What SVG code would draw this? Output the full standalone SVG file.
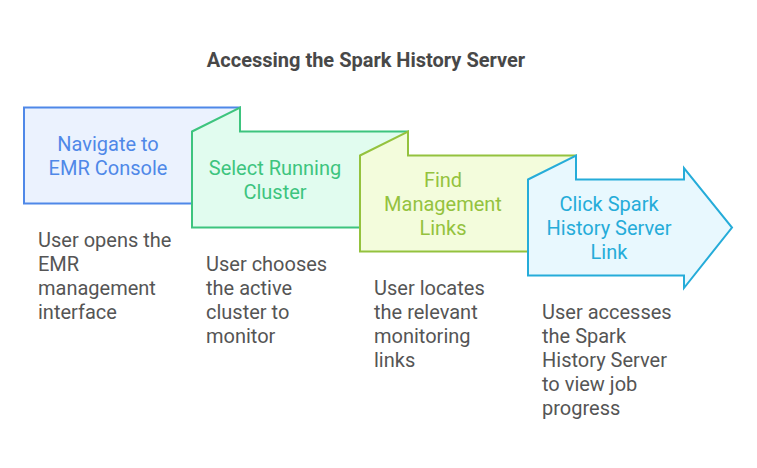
<svg xmlns="http://www.w3.org/2000/svg" width="757" height="468" viewBox="0 0 757 468">
<style>
.t{font-family:Roboto,"Liberation Sans",sans-serif;font-size:20px;text-anchor:middle}
.d{font-family:Roboto,"Liberation Sans",sans-serif;font-size:20px;fill:#555555}
.s{stroke-width:2;stroke-linejoin:miter}
</style>
<rect width="757" height="468" fill="#ffffff"/>
<text x="366" y="67" style="font-family:Roboto,'Liberation Sans',sans-serif;font-size:20px;font-weight:bold;text-anchor:middle" fill="#484848">Accessing the Spark History Server</text>
<g id="connectors"></g>
<g id="node1">
<rect x="24" y="107.5" width="216" height="96" class="s" fill="#ebf2fe" stroke="#4f88e8"/>
<text class="t" fill="#4f88e8"><tspan x="108" y="151">Navigate to</tspan><tspan x="108" y="175">EMR Console</tspan></text>
<text class="d"><tspan x="38" y="247">User opens the</tspan><tspan x="38" y="271">EMR</tspan><tspan x="38" y="295">management</tspan><tspan x="38" y="319">interface</tspan></text>
</g>
<g id="node2">
<path d="M192,131.5 L240,107.5 L240,131.5 L408,131.5 L408,227.5 L192,227.5 Z" class="s" fill="#e1fcef" stroke="#3dc47e"/>
<text class="t" fill="#3dc47e"><tspan x="275" y="175">Select Running</tspan><tspan x="275" y="199">Cluster</tspan></text>
<text class="d"><tspan x="206" y="271">User chooses</tspan><tspan x="206" y="295">the active</tspan><tspan x="206" y="319">cluster to</tspan><tspan x="206" y="343">monitor</tspan></text>
</g>
<g id="node3">
<path d="M360,155.5 L408,131.5 L408,155.5 L576,155.5 L576,251.5 L360,251.5 Z" class="s" fill="#f3fcdc" stroke="#94c23e"/>
<text class="t" fill="#94c23e"><tspan x="443" y="187">Find</tspan><tspan x="443" y="211">Management</tspan><tspan x="443" y="235">Links</tspan></text>
<text class="d"><tspan x="374" y="295">User locates</tspan><tspan x="374" y="319">the relevant</tspan><tspan x="374" y="343">monitoring</tspan><tspan x="374" y="367">links</tspan></text>
</g>
<g id="node4">
<path d="M528,179.5 L576,155.5 L576,179.5 L684,179.5 L684,168 L732,227.5 L684,288 L684,275.5 L528,275.5 Z" class="s" fill="#e8f8fe" stroke="#25acd9"/>
<text class="t" fill="#25acd9"><tspan x="609" y="211">Click Spark</tspan><tspan x="609" y="235">History Server</tspan><tspan x="609" y="259">Link</tspan></text>
<text class="d"><tspan x="542" y="319">User accesses</tspan><tspan x="542" y="343">the Spark</tspan><tspan x="542" y="367">History Server</tspan><tspan x="542" y="391">to view job</tspan><tspan x="542" y="415">progress</tspan></text>
</g>
</svg>
